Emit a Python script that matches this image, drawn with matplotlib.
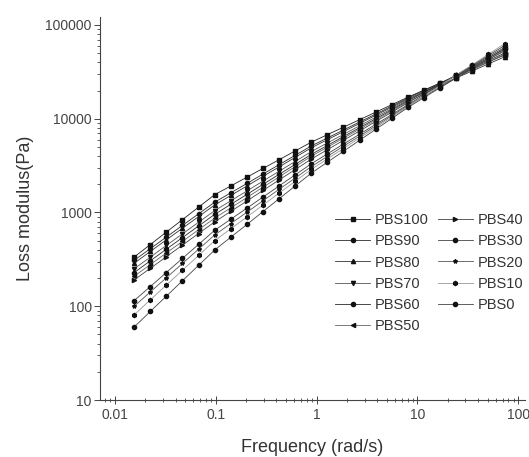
import matplotlib
matplotlib.use("Agg")
import matplotlib.pyplot as plt
from matplotlib.ticker import LogLocator, FixedLocator, FixedFormatter, NullFormatter

plt.rcParams['font.family'] = ['Liberation Sans', 'DejaVu Sans']

frequency = [0.0155, 0.0224, 0.0323, 0.0467, 0.0675, 0.0975, 0.141, 0.204,
             0.294, 0.425, 0.614, 0.887, 1.28, 1.85, 2.67, 3.86, 5.58, 8.06,
             11.6, 16.8, 24.3, 35.1, 50.7, 73.3]

labels = ['PBS100', 'PBS90', 'PBS80', 'PBS70', 'PBS60', 'PBS50',
          'PBS40', 'PBS30', 'PBS20', 'PBS10', 'PBS0']

PBS100 = [335, 455, 618, 839, 1140, 1549, 1919, 2382, 2951, 3656, 4539, 5623,
          6761, 8128, 9772, 11749, 14125, 16982, 20184, 23988, 28510, 33884, 40272, 47863]
PBS90 = [309, 411, 547, 728, 968, 1288, 1622, 2042, 2570, 3236, 4074, 5129,
         6237, 7586, 9226, 11220, 13646, 16596, 19953, 23988, 28840, 34674, 41687, 50119]
PBS80 = [288, 384, 511, 679, 904, 1202, 1520, 1919, 2427, 3069, 3873, 4898,
         5984, 7295, 8913, 10889, 13274, 16218, 19275, 22909, 27227, 32359, 38459, 45709]
PBS70 = [251, 334, 445, 592, 787, 1047, 1334, 1698, 2163, 2754, 3508, 4467,
         5521, 6808, 8414, 10399, 12823, 15849, 19364, 23605, 28840, 35237, 42954, 52481]
PBS60 = [229, 305, 406, 540, 718, 955, 1222, 1560, 1995, 2553, 3258, 4169,
         5188, 6457, 8035, 10000, 12445, 15488, 19125, 23605, 29174, 36058, 44463, 54954]
PBS50 = [209, 278, 370, 492, 655, 871, 1122, 1445, 1862, 2399, 3090, 3981,
         4977, 6209, 7762, 9705, 12106, 15136, 18408, 22387, 27227, 33113, 40272, 48978]
PBS40 = [191, 254, 337, 449, 597, 794, 1028, 1328, 1718, 2223, 2871, 3715,
         4677, 5888, 7413, 9333, 11749, 14791, 18535, 23281, 29174, 36559, 45920, 57544]
PBS30 = [115, 162, 229, 324, 457, 646, 848, 1114, 1462, 1919, 2523, 3311,
         4217, 5370, 6839, 8710, 11092, 14125, 17989, 22909, 29174, 37154, 47315, 60256]
PBS20 = [100, 142, 201, 286, 406, 575, 762, 1007, 1334, 1766, 2333, 3090,
         3963, 5093, 6531, 8375, 10765, 13804, 17298, 21727, 27227, 34119, 42855, 53703]
PBS10 = [81, 117, 168, 242, 348, 501, 671, 897, 1202, 1611, 2153, 2884,
         3733, 4819, 6237, 8072, 10423, 13490, 17458, 22542, 29174, 37757, 48753, 63096]
PBS0 = [60, 88, 128, 187, 273, 398, 546, 746, 1023, 1403, 1919, 2630,
        3443, 4498, 5888, 7709, 10069, 13183, 16788, 21380, 27227, 34674, 44157, 56234]

series = [PBS100, PBS90, PBS80, PBS70, PBS60, PBS50, PBS40, PBS30, PBS20, PBS10, PBS0]
markers = ['s', 'o', '^', 'v', 'o', '<', '>', 'o', '*', 'h', 'o']
line_colors = ['#222222', '#2a2a2a', '#333333', '#555555', '#2a2a2a', '#666666',
               '#444444', '#444444', '#555555', '#999999', '#444444']

x_ticks = [0.01, 0.1, 1, 10, 100]
x_tick_labels = ['0.01', '0.1', '1', '10', '100']
y_ticks = [10, 100, 1000, 10000, 100000]
y_tick_labels = ['10', '100', '1000', '10000', '100000']

fig = plt.figure(figsize=(5.29, 4.57), dpi=100)
ax = fig.add_axes([100/529, 1 - 400/457, 425/529, 383/457])

for lab, vals, mk, col in zip(labels, series, markers, line_colors):
    ax.plot(frequency, vals, marker=mk, color=col, markerfacecolor='#111111',
            markeredgecolor='#111111', markersize=3.0, linewidth=0.6, label=lab)

ax.set_xscale('log')
ax.set_yscale('log')
ax.set_xlim(0.0071, 117)
ax.set_ylim(10, 121700)

ax.spines['top'].set_visible(False)
ax.spines['right'].set_visible(False)
for s in ('left', 'bottom'):
    ax.spines[s].set_linewidth(0.8)
    ax.spines[s].set_color('#444444')

ax.xaxis.set_major_locator(FixedLocator(x_ticks))
ax.xaxis.set_major_formatter(FixedFormatter(x_tick_labels))
ax.yaxis.set_major_locator(FixedLocator(y_ticks))
ax.yaxis.set_major_formatter(FixedFormatter(y_tick_labels))
ax.xaxis.set_minor_locator(LogLocator(base=10, subs=range(2, 10), numticks=20))
ax.yaxis.set_minor_locator(LogLocator(base=10, subs=range(2, 10), numticks=20))
ax.xaxis.set_minor_formatter(NullFormatter())
ax.yaxis.set_minor_formatter(NullFormatter())

ax.tick_params(axis='x', which='major', direction='inout', length=6, width=0.7,
               labelsize=10, colors='#444444', pad=3)
ax.tick_params(axis='x', which='minor', direction='inout', length=3, width=0.6, colors='#444444')
ax.tick_params(axis='y', which='major', direction='out', length=4, width=0.7,
               labelsize=10, colors='#444444', pad=2)
ax.tick_params(axis='y', which='minor', direction='out', length=2, width=0.6, colors='#444444')

ax.set_xlabel('Frequency (rad/s)', fontsize=13, color='#333333', labelpad=12)
ax.set_ylabel('Loss modulus(Pa)', fontsize=13, color='#333333', labelpad=8)

leg = fig.legend(loc='upper left', bbox_to_anchor=(335/529, 1 - 213/457), ncol=2,
                 frameon=False, fontsize=10.5, handlelength=2.4, handletextpad=0.35,
                 columnspacing=0.6, labelspacing=0.5, borderpad=0, borderaxespad=0)
for t in leg.get_texts():
    t.set_color('#333333')

fig.savefig('out.png', dpi=100)
